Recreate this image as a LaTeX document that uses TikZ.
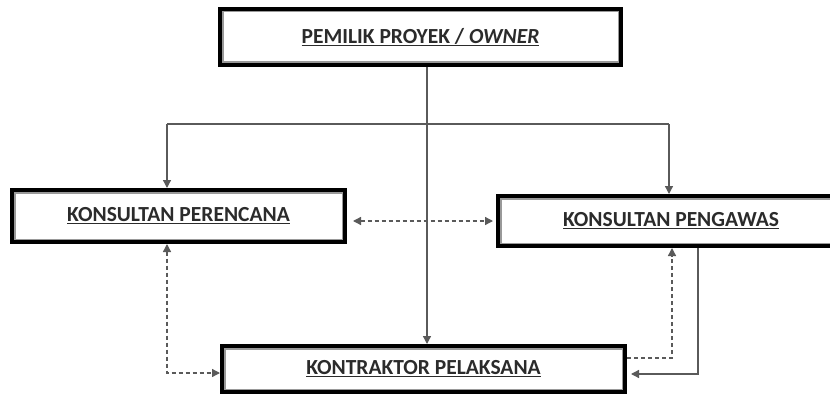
\documentclass[tikz,border=0pt]{standalone}
\usepackage{fontspec}
\setmainfont{Carlito}
\usetikzlibrary{arrows.meta,calc}
\definecolor{conn}{HTML}{5A5A5A}
\definecolor{txt}{HTML}{2B2B2B}
\tikzset{
  >={Triangle[length=8pt,width=8pt]},
  box/.style={draw=black, line width=4.5pt, fill=white, inner sep=0pt,
    font=\fontsize{21.5}{24}\selectfont\bfseries, text=txt},
  innerbox/.style={draw=gray!80, line width=1.4pt},
  conline/.style={draw=conn, line width=1.3pt},
  arr/.style={conline, ->},
  dasharr/.style={conline, dash pattern=on 4pt off 3pt}
}
\newcommand{\ul}[1]{\underline{#1}}
\begin{document}
\begin{tikzpicture}[x=1pt,y=-1pt]
\useasboundingbox (0,0) rectangle (830,396);
% boxes
\node[box, minimum width=400.5pt, minimum height=55.5pt] (top) at (420.5,37) {\ul{PEMILIK PROYEK / \textit{OWNER}}};
\node[box, minimum width=332.5pt, minimum height=51.5pt] (left) at (178.5,216) {\ul{KONSULTAN PERENCANA}};
\node[box, minimum width=345.5pt, minimum height=49.5pt] (right) at (671,221) {\ul{KONSULTAN PENGAWAS}};
\node[box, minimum width=402.5pt, minimum height=45.5pt] (bot) at (423.5,369) {\ul{KONTRAKTOR PELAKSANA}};
\foreach \n in {top,left,right,bot}{
  \draw[innerbox] ([shift={(4.8,4.8)}]\n.north west) rectangle ([shift={(-4.8,-4.8)}]\n.south east);
}
% coordinates
\coordinate (j) at (427,124);
\coordinate (jl) at (167,124);
\coordinate (jr) at (669,124);
\coordinate (mid) at (423,221);
\coordinate (cl) at (167,373);
\coordinate (cr) at (672,358);
\coordinate (sr) at (698,374);
% solid connectors
\draw[arr] (top.south -| j) -- (bot.north -| j);
\draw[conline] (jl) -- (jr);
\draw[arr] (jl) -- (jl |- left.north);
\draw[arr] (jr) -- (jr |- right.north);
\draw[arr, shorten >=4pt] (sr |- right.south) -- (sr) -- (sr -| bot.east);
% dashed connectors
\draw[dasharr, <->] ([xshift=6pt]left.east |- mid) -- ([xshift=-3pt]right.west |- mid);
\draw[dasharr, <->] (left.south -| cl) -- (cl) -- (cl -| bot.west);
\draw[dasharr, ->] (cr -| bot.east) -- (cr) -- (cr |- right.south);
\end{tikzpicture}
\end{document}
